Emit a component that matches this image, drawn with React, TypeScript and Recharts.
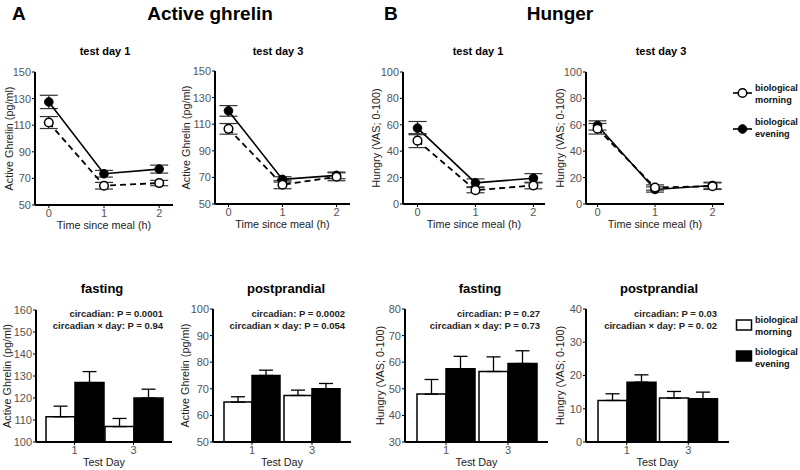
import React from 'react';
import { LineChart, Line, XAxis, YAxis, ErrorBar, BarChart, Bar } from 'recharts';

const FONT = 'Arial, "Liberation Sans", Helvetica, sans-serif';

// ---------- time-course data (top row) ----------
const timePoints = [0, 1, 2];

const ghrelinD1Evening = [127.5, 73.5, 77];
const ghrelinD1EveningSE = [5, 2.5, 3];
const ghrelinD1Morning = [112, 64.5, 66.5];
const ghrelinD1MorningSE = [4.5, 2.5, 2];

const ghrelinD3Evening = [120, 68.5, 71.5];
const ghrelinD3EveningSE = [4, 2, 2.5];
const ghrelinD3Morning = [106.5, 64.5, 70.5];
const ghrelinD3MorningSE = [4, 3, 3];

const hungerD1Evening = [57.5, 16, 19.5];
const hungerD1EveningSE = [5, 3, 3.5];
const hungerD1Morning = [48, 10.5, 14];
const hungerD1MorningSE = [5.3, 2, 2.5];

const hungerD3Evening = [59.5, 11, 14];
const hungerD3EveningSE = [3.5, 2, 2.5];
const hungerD3Morning = [57, 12.5, 13.5];
const hungerD3MorningSE = [4, 2, 2.5];

// ---------- bar data (bottom row) ----------
const testDays = ['1', '3'];

const ghrelinFastMorning = [111.5, 107];
const ghrelinFastMorningSE = [4.8, 3.7];
const ghrelinFastEvening = [127, 120];
const ghrelinFastEveningSE = [5, 4];

const ghrelinPostMorning = [65, 67.5];
const ghrelinPostMorningSE = [2, 2];
const ghrelinPostEvening = [75, 70];
const ghrelinPostEveningSE = [2, 2];

const hungerFastMorning = [48, 56.5];
const hungerFastMorningSE = [5.5, 5.5];
const hungerFastEvening = [57.5, 59.5];
const hungerFastEveningSE = [4.7, 4.8];

const hungerPostMorning = [12.5, 13.2];
const hungerPostMorningSE = [2, 2];
const hungerPostEvening = [18, 13];
const hungerPostEveningSE = [2.2, 2];

// ---------- tick labels ----------
const ghrelinLineTicks = [50, 70, 90, 110, 130, 150];
const hungerLineTicks = [0, 20, 40, 60, 80, 100];
const ghrelinFastTicks = [100, 110, 120, 130, 140, 150, 160];
const ghrelinPostTicks = [50, 60, 70, 80, 90, 100];
const hungerFastTicks = [30, 40, 50, 60, 70, 80];
const hungerPostTicks = [0, 10, 20, 30, 40];

const legendLabels = ['biological morning', 'biological evening'];

function lineData(eve: number[], eveSE: number[], morn: number[], mornSE: number[]) {
  return timePoints.map((t, i) => ({ t, eve: eve[i], eveErr: eveSE[i], morn: morn[i], mornErr: mornSE[i] }));
}
function barData(morn: number[], mornSE: number[], eve: number[], eveSE: number[]) {
  return testDays.map((d, i) => ({ day: d, morn: morn[i], mornErr: [0, mornSE[i]], eve: eve[i], eveErr: [0, eveSE[i]] }));
}

const tickStyle = { fill: '#555', fontSize: 11, fontFamily: FONT };
const axisLineStyle = { stroke: '#000', strokeWidth: 2 };

type LineProps = {
  x0: number; plotLeft: number; plotTop: number; plotW: number; plotH: number;
  data: any[]; yDomain: number[]; yTicks: number[]; xDomain: number[];
  yLabel: string; yLabelOffset: number;
};

function LinePanel(p: LineProps) {
  const mt = 8;
  const xh = 26;
  const yW = p.plotLeft - p.x0;
  const W = yW + p.plotW + 10;
  const H = mt + p.plotH + xh;
  return (
    <div style={{ position: 'absolute', left: p.x0, top: p.plotTop - mt }}>
      <LineChart width={W} height={H} data={p.data} margin={{ top: mt, right: 10, left: 0, bottom: 0 }}>
        <XAxis
          type="number" dataKey="t" domain={p.xDomain} ticks={timePoints} allowDataOverflow interval={0}
          height={xh} tickSize={3} tickMargin={1} axisLine={axisLineStyle} tickLine={{ stroke: '#000' }}
          tick={tickStyle}
          label={{ value: 'Time since meal (h)', position: 'insideBottom', offset: 2, fill: '#222', fontSize: 10.8, fontFamily: FONT }}
        />
        <YAxis
          type="number" domain={p.yDomain} ticks={p.yTicks} allowDataOverflow interval={0} width={yW}
          tickSize={3} tickMargin={1} axisLine={axisLineStyle} tickLine={{ stroke: '#000' }} tick={tickStyle}
          label={{ value: p.yLabel, angle: -90, position: 'insideLeft', offset: p.yLabelOffset, fill: '#222', fontSize: 10.8, fontFamily: FONT, style: { textAnchor: 'middle' } }}
        />
        <Line dataKey="eve" stroke="#000" strokeWidth={1.6} isAnimationActive={false}
          dot={{ r: 4.3, fill: '#000', stroke: '#000', strokeWidth: 1 }} activeDot={false}>
          <ErrorBar dataKey="eveErr" width={9} stroke="#333" strokeWidth={1.2} direction="y" />
        </Line>
        <Line dataKey="morn" stroke="#000" strokeWidth={1.8} strokeDasharray="6 4" isAnimationActive={false}
          dot={{ r: 4.3, fill: '#fff', stroke: '#000', strokeWidth: 1.5, strokeDasharray: '0' }} activeDot={false}>
          <ErrorBar dataKey="mornErr" width={9} stroke="#333" strokeWidth={1.2} direction="y" />
        </Line>
      </LineChart>
    </div>
  );
}

type BarProps = {
  x0: number; plotLeft: number; plotTop: number; plotW: number; plotH: number;
  data: any[]; yDomain: number[]; yTicks: number[]; padL: number; padR: number; barSize: number;
  yLabel: string; yLabelOffset: number;
};

function BarPanel(p: BarProps) {
  const mt = 8;
  const xh = 26;
  const yW = p.plotLeft - p.x0;
  const W = yW + p.plotW + 10;
  const H = mt + p.plotH + xh;
  return (
    <div style={{ position: 'absolute', left: p.x0, top: p.plotTop - mt }}>
      <BarChart width={W} height={H} data={p.data} margin={{ top: mt, right: 10, left: 0, bottom: 0 }}
        barGap={0} barSize={p.barSize}>
        <XAxis
          dataKey="day" type="category" padding={{ left: p.padL, right: p.padR }} interval={0}
          height={xh} tickSize={3} tickMargin={1} axisLine={axisLineStyle} tickLine={{ stroke: '#000' }}
          tick={tickStyle}
          label={{ value: 'Test Day', position: 'insideBottom', offset: 2, fill: '#222', fontSize: 10.8, fontFamily: FONT }}
        />
        <YAxis
          type="number" domain={p.yDomain} ticks={p.yTicks} allowDataOverflow interval={0} width={yW}
          tickSize={3} tickMargin={1} axisLine={axisLineStyle} tickLine={{ stroke: '#000' }} tick={tickStyle}
          label={{ value: p.yLabel, angle: -90, position: 'insideLeft', offset: p.yLabelOffset, fill: '#222', fontSize: 10.8, fontFamily: FONT, style: { textAnchor: 'middle' } }}
        />
        <Bar dataKey="morn" fill="#fff" stroke="#000" strokeWidth={1.5} isAnimationActive={false}>
          <ErrorBar dataKey="mornErr" width={7} stroke="#000" strokeWidth={1.3} direction="y" />
        </Bar>
        <Bar dataKey="eve" fill="#000" stroke="#000" strokeWidth={1.5} isAnimationActive={false}>
          <ErrorBar dataKey="eveErr" width={7} stroke="#000" strokeWidth={1.3} direction="y" />
        </Bar>
      </BarChart>
    </div>
  );
}

function Annot({ x, y, l1, l2 }: { x: number; y: number; l1: string; l2: string }) {
  return (
    <g fontFamily={FONT} fontSize={9.5} fontWeight="bold" fill="#222" textAnchor="end">
      <text x={x} y={y}>{l1}</text>
      <text x={x} y={y + 12}>{l2}</text>
    </g>
  );
}

export default function App() {
  const ghrelinLabel = 'Active Ghrelin (pg/ml)';
  const hungerLabel = 'Hungry (VAS; 0-100)';
  const [m1, m2] = legendLabels[0].split(' ');
  const [e1, e2] = legendLabels[1].split(' ');
  return (
    <div style={{ position: 'absolute', left: 0, top: 0, width: 800, height: 470, background: '#fff', overflow: 'hidden', fontFamily: FONT }}>
      <LinePanel x0={0} plotLeft={35} plotTop={72} plotW={138} plotH={133}
        data={lineData(ghrelinD1Evening, ghrelinD1EveningSE, ghrelinD1Morning, ghrelinD1MorningSE)}
        yDomain={[50, 150]} yTicks={ghrelinLineTicks} xDomain={[-0.25, 2.25]} yLabel={ghrelinLabel} yLabelOffset={9} />
      <LinePanel x0={178} plotLeft={215} plotTop={71} plotW={135} plotH={133}
        data={lineData(ghrelinD3Evening, ghrelinD3EveningSE, ghrelinD3Morning, ghrelinD3MorningSE)}
        yDomain={[50, 150]} yTicks={ghrelinLineTicks} xDomain={[-0.25, 2.25]} yLabel={ghrelinLabel} yLabelOffset={8} />
      <LinePanel x0={370} plotLeft={403} plotTop={72} plotW={142} plotH={132}
        data={lineData(hungerD1Evening, hungerD1EveningSE, hungerD1Morning, hungerD1MorningSE)}
        yDomain={[0, 100]} yTicks={hungerLineTicks} xDomain={[-0.25, 2.2]} yLabel={hungerLabel} yLabelOffset={6} />
      <LinePanel x0={553} plotLeft={586} plotTop={72} plotW={138} plotH={132}
        data={lineData(hungerD3Evening, hungerD3EveningSE, hungerD3Morning, hungerD3MorningSE)}
        yDomain={[0, 100]} yTicks={hungerLineTicks} xDomain={[-0.2, 2.2]} yLabel={hungerLabel} yLabelOffset={7} />

      <BarPanel x0={0} plotLeft={36} plotTop={310} plotW={136} plotH={132} padL={9} padR={9} barSize={29}
        data={barData(ghrelinFastMorning, ghrelinFastMorningSE, ghrelinFastEvening, ghrelinFastEveningSE)}
        yDomain={[100, 160]} yTicks={ghrelinFastTicks} yLabel={ghrelinLabel} yLabelOffset={7} />
      <BarPanel x0={178} plotLeft={213} plotTop={309} plotW={138} plotH={133} padL={9} padR={9} barSize={28}
        data={barData(ghrelinPostMorning, ghrelinPostMorningSE, ghrelinPostEvening, ghrelinPostEveningSE)}
        yDomain={[50, 100]} yTicks={ghrelinPostTicks} yLabel={ghrelinLabel} yLabelOffset={7} />
      <BarPanel x0={370} plotLeft={405} plotTop={309} plotW={143} plotH={133} padL={10} padR={9} barSize={29}
        data={barData(hungerFastMorning, hungerFastMorningSE, hungerFastEvening, hungerFastEveningSE)}
        yDomain={[30, 80]} yTicks={hungerFastTicks} yLabel={hungerLabel} yLabelOffset={10} />
      <BarPanel x0={553} plotLeft={586} plotTop={309} plotW={143} plotH={133} padL={10} padR={10} barSize={29}
        data={barData(hungerPostMorning, hungerPostMorningSE, hungerPostEvening, hungerPostEveningSE)}
        yDomain={[0, 40]} yTicks={hungerPostTicks} yLabel={hungerLabel} yLabelOffset={7} />

      <svg width={800} height={470} style={{ position: 'absolute', left: 0, top: 0, pointerEvents: 'none' }}>
        <g fontFamily={FONT} fontWeight="bold" fill="#000">
          <text x={12} y={20} fontSize={19}>A</text>
          <text x={210} y={20} fontSize={19} textAnchor="middle">Active ghrelin</text>
          <text x={384} y={20} fontSize={19}>B</text>
          <text x={560} y={20} fontSize={19} textAnchor="middle">Hunger</text>

          <text x={105} y={55} fontSize={11} textAnchor="middle">test day 1</text>
          <text x={278} y={55} fontSize={11} textAnchor="middle">test day 3</text>
          <text x={478} y={55} fontSize={11} textAnchor="middle">test day 1</text>
          <text x={661} y={55} fontSize={11} textAnchor="middle">test day 3</text>

          <text x={102} y={293} fontSize={13} textAnchor="middle">fasting</text>
          <text x={286} y={293} fontSize={13} textAnchor="middle">postprandial</text>
          <text x={480} y={293} fontSize={13} textAnchor="middle">fasting</text>
          <text x={659} y={293} fontSize={13} textAnchor="middle">postprandial</text>
        </g>

        <Annot x={163} y={317} l1="circadian: P = 0.0001" l2="circadian × day: P = 0.94" />
        <Annot x={345} y={317} l1="circadian: P = 0.0002" l2="circadian × day: P = 0.054" />
        <Annot x={540} y={317} l1="circadian: P = 0.27" l2="circadian × day: P = 0.73" />
        <Annot x={717} y={317} l1="circadian: P = 0.03" l2="circadian × day: P = 0. 02" />

        {/* legend for line charts */}
        <g fontFamily={FONT} fontSize={9.2} fontWeight="bold" fill="#111">
          <line x1={733} x2={752} y1={93} y2={93} stroke="#000" strokeWidth={1.6} />
          <circle cx={742.5} cy={93} r={4.3} fill="#fff" stroke="#000" strokeWidth={1.5} />
          <text x={755} y={91}>{m1}</text>
          <text x={755} y={103}>{m2}</text>
          <line x1={733} x2={752} y1={129} y2={129} stroke="#000" strokeWidth={1.6} />
          <circle cx={742.5} cy={129} r={4.3} fill="#000" stroke="#000" strokeWidth={1} />
          <text x={755} y={125}>{e1}</text>
          <text x={755} y={137}>{e2}</text>

          {/* legend for bar charts */}
          <rect x={736.5} y={320} width={15} height={10} fill="#fff" stroke="#000" strokeWidth={1.5} />
          <text x={755} y={323}>{m1}</text>
          <text x={755} y={335}>{m2}</text>
          <rect x={736.5} y={351} width={15} height={10} fill="#000" stroke="#000" strokeWidth={1.5} />
          <text x={755} y={355}>{e1}</text>
          <text x={755} y={367}>{e2}</text>
        </g>
      </svg>
    </div>
  );
}
